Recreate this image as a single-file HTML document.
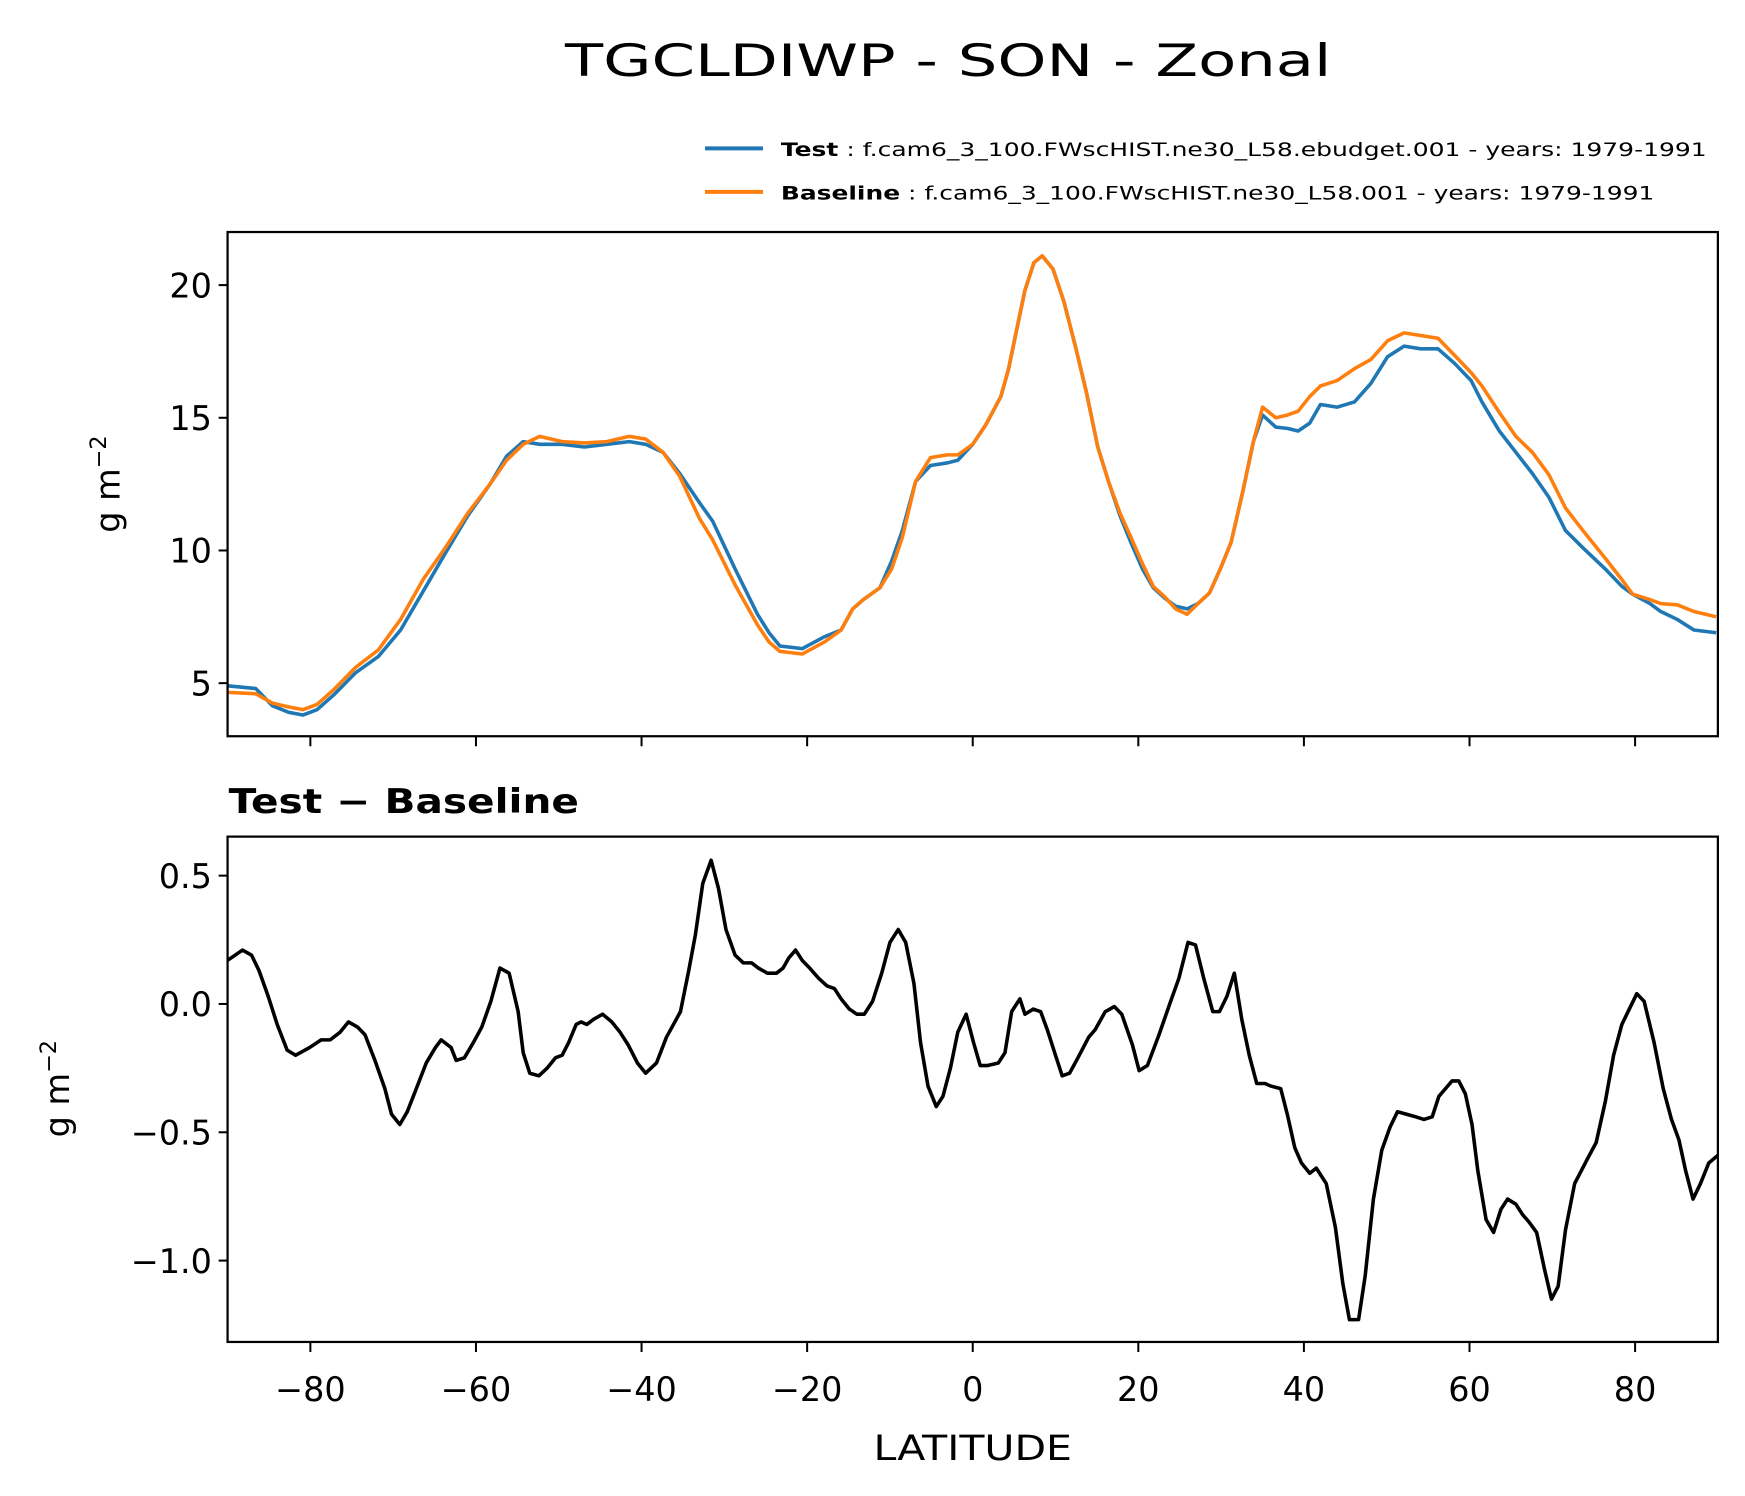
<!DOCTYPE html>
<html><head><meta charset="utf-8"><style>
html,body{margin:0;padding:0;background:#fff}
svg{display:block}
text{font-family:"DejaVu Sans","Liberation Sans",sans-serif;fill:#000}
</style></head><body>
<svg id="chart" width="1745" height="1496" viewBox="0 0 1564.3 1341.1" xmlns="http://www.w3.org/2000/svg">
<text x="850" y="68" font-size="40" text-anchor="middle" textLength="687" lengthAdjust="spacingAndGlyphs">TGCLDIWP - SON - Zonal</text>
<g>
<line x1="632" y1="133" x2="684" y2="133" stroke="#1f77b4" stroke-width="3.5"/>
<text x="700" y="140" font-size="17" textLength="830" lengthAdjust="spacingAndGlyphs"><tspan font-weight="bold">Test</tspan> : f.cam6_3_100.FWscHIST.ne30_L58.ebudget.001 - years: 1979-1991</text>
<line x1="632" y1="172" x2="684" y2="172" stroke="#ff7f0e" stroke-width="3.5"/>
<text x="700" y="179" font-size="17" textLength="783" lengthAdjust="spacingAndGlyphs"><tspan font-weight="bold">Baseline</tspan> : f.cam6_3_100.FWscHIST.ne30_L58.001 - years: 1979-1991</text>
</g>
<g id="top"></g>
<g id="bot"></g>
<text x="205" y="729" font-size="30" font-weight="bold" textLength="314" lengthAdjust="spacingAndGlyphs">Test − Baseline</text>
<text x="872" y="1309" font-size="31" text-anchor="middle" textLength="178" lengthAdjust="spacingAndGlyphs">LATITUDE</text>
<text transform="translate(107,434) rotate(-90)" font-size="30" text-anchor="middle">g m<tspan font-size="20" dy="-12">−2</tspan></text>
<text transform="translate(62,976) rotate(-90)" font-size="30" text-anchor="middle">g m<tspan font-size="20" dy="-12">−2</tspan></text>
</svg>
<script>
const testLat=[-90,-86.6,-84.6,-82.6,-80.9,-79.2,-77.2,-74.5,-71.8,-69.1,-66.4,-63.7,-61,-58.3,-56.3,-54.3,-52.3,-49.6,-46.9,-44.2,-41.5,-39.5,-37.4,-35.4,-33,-31.4,-28.7,-26,-24.6,-23.3,-20.6,-17.9,-15.9,-14.5,-13.2,-11.2,-9.8,-8.5,-6.9,-5.1,-3.1,-1.8,0,1.6,3.4,4.3,5.3,6.3,7.4,8.4,9.7,11,12.4,13.7,15.1,16.4,17.8,19.1,20.5,21.8,23.2,24.5,25.9,27.2,28.6,29.9,31.2,32.6,33.9,35,36.6,38,39.3,40.7,42,44,46.1,48.1,50.1,52.1,54.1,56.2,58.2,60.2,61.5,63.6,65.6,67.6,69.6,71.6,73.7,76.4,78.4,79.7,81.8,83.1,85.1,87.1,89.8];
const testVals=[4.9,4.8,4.15,3.9,3.8,4.0,4.55,5.4,6.0,7.0,8.45,9.9,11.3,12.5,13.55,14.1,14.0,14.0,13.9,14.0,14.1,14.0,13.7,12.9,11.8,11.1,9.3,7.6,6.9,6.4,6.3,6.75,7.0,7.8,8.15,8.6,9.6,10.75,12.6,13.2,13.3,13.4,14.0,14.75,15.8,16.8,18.3,19.8,20.85,21.1,20.6,19.4,17.7,16.0,13.9,12.6,11.3,10.3,9.3,8.6,8.2,7.9,7.8,8.0,8.4,9.3,10.3,12.2,14.1,15.1,14.65,14.6,14.5,14.8,15.5,15.4,15.6,16.3,17.3,17.7,17.6,17.6,17.05,16.4,15.6,14.5,13.7,12.9,12.0,10.75,10.1,9.3,8.65,8.35,8.0,7.7,7.4,7.0,6.9];
const baseVals=[4.65,4.6,4.25,4.1,4.0,4.2,4.75,5.6,6.25,7.4,8.9,10.1,11.4,12.5,13.4,14.0,14.3,14.1,14.05,14.1,14.3,14.2,13.7,12.8,11.2,10.4,8.7,7.2,6.55,6.2,6.1,6.55,7.0,7.8,8.15,8.6,9.3,10.5,12.6,13.5,13.6,13.6,14.0,14.75,15.8,16.8,18.3,19.8,20.85,21.1,20.6,19.4,17.7,16.0,13.9,12.6,11.4,10.5,9.5,8.65,8.25,7.8,7.6,8.0,8.4,9.3,10.3,12.2,14.1,15.4,15.0,15.1,15.25,15.8,16.2,16.4,16.85,17.2,17.9,18.2,18.1,18.0,17.35,16.7,16.2,15.2,14.3,13.7,12.85,11.6,10.75,9.7,8.9,8.35,8.15,8.0,7.95,7.7,7.5];
const diffLat=[-90,-88.2,-87.1,-86.2,-85.1,-84,-82.8,-81.8,-80.1,-78.7,-77.6,-76.4,-75.4,-74.3,-73.4,-72.2,-71,-70.2,-69.2,-68.3,-67.2,-66,-64.9,-64.2,-63,-62.4,-61.4,-60.3,-59.3,-58.2,-57.1,-56,-54.9,-54.3,-53.5,-52.4,-51.4,-50.4,-49.6,-48.8,-47.9,-47.3,-46.6,-45.8,-44.7,-43.6,-42.6,-41.6,-40.5,-39.5,-38.2,-37,-35.3,-34.3,-33.5,-32.6,-31.6,-30.7,-29.8,-28.7,-27.7,-26.7,-25.9,-24.8,-23.7,-22.9,-22.2,-21.4,-20.6,-19.7,-18.6,-17.6,-16.7,-15.9,-14.9,-14,-13.1,-12.1,-11,-10,-9,-8.1,-7.1,-6.3,-5.4,-4.4,-3.6,-2.7,-1.8,-0.8,0.1,0.9,1.8,3.1,3.9,4.7,5.7,6.3,7.3,8.2,9,10,10.8,11.7,12.7,14,14.8,16,17.1,18,19.3,20.1,21.1,22.5,23.8,24.9,26,26.9,27.9,29,29.8,30.7,31.6,32.5,33.4,34.3,35.3,36,37.2,38,38.9,39.7,40.7,41.5,42.7,43.8,44.7,45.5,46.6,47.4,48.4,49.4,50.4,51.3,52.4,53.5,54.5,55.5,56.3,57.1,57.9,58.7,59.5,60.3,61,62,62.9,63.8,64.6,65.6,66.4,67.2,68.1,69.1,69.9,70.7,71.6,72.7,74.3,75.3,76.4,77.4,78.4,79.3,80.2,81.1,82.3,83.4,84.4,85.3,86.1,87,87.9,88.9,90];
const diffVals=[0.17,0.21,0.19,0.13,0.03,-0.08,-0.18,-0.2,-0.17,-0.14,-0.14,-0.11,-0.07,-0.09,-0.12,-0.22,-0.33,-0.43,-0.47,-0.42,-0.33,-0.23,-0.17,-0.14,-0.17,-0.22,-0.21,-0.15,-0.09,0.01,0.14,0.12,-0.03,-0.19,-0.27,-0.28,-0.25,-0.21,-0.2,-0.15,-0.08,-0.07,-0.08,-0.06,-0.04,-0.07,-0.11,-0.16,-0.23,-0.27,-0.23,-0.13,-0.03,0.13,0.27,0.47,0.56,0.45,0.29,0.19,0.16,0.16,0.14,0.12,0.12,0.14,0.18,0.21,0.17,0.14,0.1,0.07,0.06,0.02,-0.02,-0.04,-0.04,0.01,0.12,0.24,0.29,0.24,0.08,-0.15,-0.32,-0.4,-0.36,-0.25,-0.11,-0.04,-0.15,-0.24,-0.24,-0.23,-0.19,-0.03,0.02,-0.04,-0.02,-0.03,-0.1,-0.2,-0.28,-0.27,-0.21,-0.13,-0.1,-0.03,-0.01,-0.04,-0.16,-0.26,-0.24,-0.12,0,0.1,0.24,0.23,0.1,-0.03,-0.03,0.03,0.12,-0.06,-0.2,-0.31,-0.31,-0.32,-0.33,-0.43,-0.56,-0.62,-0.66,-0.64,-0.7,-0.87,-1.09,-1.23,-1.23,-1.06,-0.76,-0.57,-0.48,-0.42,-0.43,-0.44,-0.45,-0.44,-0.36,-0.33,-0.3,-0.3,-0.35,-0.47,-0.65,-0.84,-0.89,-0.8,-0.76,-0.78,-0.82,-0.85,-0.89,-1.04,-1.15,-1.1,-0.88,-0.7,-0.6,-0.54,-0.38,-0.2,-0.08,-0.02,0.04,0.01,-0.15,-0.33,-0.45,-0.53,-0.65,-0.76,-0.7,-0.62,-0.59];
const xTicks=[-80,-60,-40,-20,0,20,40,60,80];
const topTicks=[5,10,15,20];
const botTicks=[0.5,0.0,-0.5,-1.0];
const botTickLabels=["0.5","0.0","−0.5","−1.0"];

const NS="http://www.w3.org/2000/svg";
const X0=204,X1=1540;
const x=v=>X0+(v+90)/180*(X1-X0);
const yTop=v=>660-(v-3)/19*452;
const yBot=v=>1203-(v+1.317)/(0.652+1.317)*453;
function mk(parent,tag,attrs){const e=document.createElementNS(NS,tag);for(const k in attrs)e.setAttribute(k,attrs[k]);parent.appendChild(e);return e;}
function axes(g,top,bottom,yf,ticks,labels,showX,pfx){
  ticks.forEach((t,i)=>{
    const l=mk(g,'line',{x1:X0-8,x2:X0,y1:yf(t),y2:yf(t),stroke:'#000','stroke-width':1.8});
    
    
    const tx=mk(g,'text',{x:X0-14,y:yf(t)+11,'font-size':30,'text-anchor':'end'});
    tx.textContent=labels[i];
    
    
  });
  xTicks.forEach(t=>{
    const l=mk(g,'line',{x1:x(t),x2:x(t),y1:bottom,y2:bottom+9,stroke:'#000','stroke-width':1.8});
    
    
    if(showX){
      const tx=mk(g,'text',{x:x(t),y:bottom+53,'font-size':30,'text-anchor':'middle'});
      tx.textContent=(t<0?'−':'')+Math.abs(t);
      
      
    }
  });
}
function line(g,lats,vals,yf,color,name){
  const p=mk(g,'polyline',{points:lats.map((l,i)=>x(l).toFixed(1)+','+yf(vals[i]).toFixed(1)).join(' '),fill:'none',stroke:color,'stroke-width':3.2,'stroke-linejoin':'round'});
  
  
}
const gt=document.getElementById('top');


const cp1=mk(gt,'clipPath',{id:'c1'});mk(cp1,'rect',{x:X0,y:208,width:X1-X0,height:452});
const l1=mk(gt,'g',{'clip-path':'url(#c1)'});
line(l1,testLat,testVals,yTop,'#1f77b4','test-line');
line(l1,testLat,baseVals,yTop,'#ff7f0e','baseline-line');
const f1=mk(gt,'rect',{x:X0,y:208,width:X1-X0,height:452,fill:'none',stroke:'#000','stroke-width':2});


axes(gt,208,660,yTop,topTicks,topTicks.map(String),false,'top');

const gb=document.getElementById('bot');


const cp2=mk(gb,'clipPath',{id:'c2'});mk(cp2,'rect',{x:X0,y:750,width:X1-X0,height:453});
const l2=mk(gb,'g',{'clip-path':'url(#c2)'});
line(l2,diffLat,diffVals,yBot,'#000','difference-line');
const f2=mk(gb,'rect',{x:X0,y:750,width:X1-X0,height:453,fill:'none',stroke:'#000','stroke-width':2});


axes(gb,750,1203,yBot,botTicks,botTickLabels,true,'bottom');
</script>
</body></html>
